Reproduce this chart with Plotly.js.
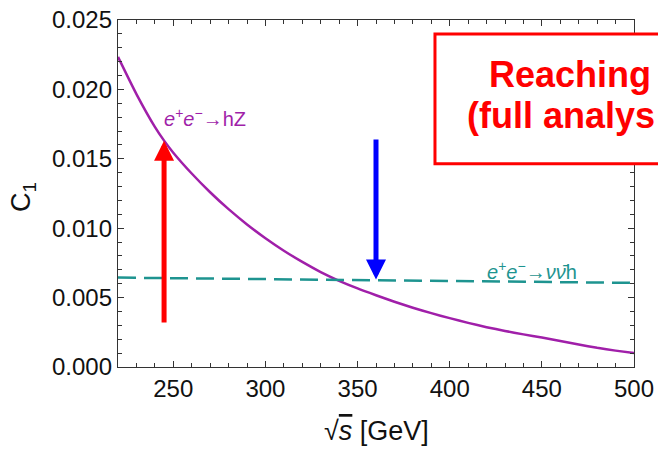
<!DOCTYPE html>
<html>
<head>
<meta charset="utf-8">
<script src="https://cdn.plot.ly/plotly-3.0.1.min.js"></script>
<style>html,body{margin:0;padding:0;background:#fff;}#chart{width:658px;height:449px;}</style>
</head>
<body>
<div id="chart"></div>
<script>
// sqrt(s) in GeV
const hzEnergy = [220,230,240,245,250,260,270,280,290,300,310,320,330,340,350,360,370,380,390,400,410,420,430,440,450,460,470,480,490,500];
// C1 for e+e- -> hZ
const hzC1 = [0.02234,0.01966,0.0173,0.01631,0.01544,0.01394,0.01259,0.01137,0.01027,0.00928,0.00838,0.00757,0.00684,0.00621,0.00566,0.00517,0.0047,0.00427,0.00388,0.00352,0.00318,0.00287,0.0026,0.00235,0.00212,0.00187,0.00162,0.00138,0.00118,0.00101];
// C1 for e+e- -> nu nubar h
const vvhEnergy = [220, 500];
const vvhC1 = [0.00644, 0.00606];
// arrows: [energy, from C1, to C1]
const redArrow = [245, 0.0031, 0.0163];
const blueArrow = [360, 0.0165, 0.0063];
const xTickVals = [250,300,350,400,450,500];
const yTickVals = [0.000,0.005,0.010,0.015,0.020,0.025];
const labels = {hz: "<i>e</i><sup>+</sup><i>e</i><sup>−</sup>→hZ", vvh: "<i>e</i><sup>+</sup><i>e</i><sup>−</sup>→<i>ν</i><i>ν̄</i>h"};
const boxLines = ["Reaching", "(full analys"];
const yTitle = "C<sub>1</sub>";
const xTitle = "√<span style='text-decoration:overline'><i>s</i></span> [GeV]";

const purple = "#a01fa9";
const teal = "#1e9490";
const FONT = "Arial, 'Liberation Sans', sans-serif";

const traces = [
  {x: hzEnergy, y: hzC1, mode: "lines", line: {color: purple, width: 2.5, shape: "spline", smoothing: 0.6}, hoverinfo: "skip"},
  {x: vvhEnergy, y: vvhC1, mode: "lines", line: {color: teal, width: 2.5, dash: "18px,8px"}, hoverinfo: "skip"}
];

const axisCommon = {
  showline: true, linecolor: "#333", linewidth: 1.2, mirror: "allticks",
  ticks: "inside", ticklen: 6, tickcolor: "#333", tickwidth: 1,
  showgrid: false, zeroline: false,
  tickfont: {family: FONT, size: 24, color: "#111"}
};

const layout = {
  width: 658, height: 449,
  margin: {l: 118, r: 24, t: 20, b: 82},
  paper_bgcolor: "#fff", plot_bgcolor: "#fff",
  showlegend: false,
  xaxis: Object.assign({}, axisCommon, {
    range: [220, 500], tickvals: xTickVals, ticktext: xTickVals.map(String),
    minor: {dtick: 10, tick0: 220, ticks: "inside", ticklen: 4, tickcolor: "#333"}
  }),
  yaxis: Object.assign({}, axisCommon, {
    range: [0, 0.025], tickvals: yTickVals, ticktext: yTickVals.map(v => v.toFixed(3)),
    minor: {dtick: 0.001, tick0: 0, ticks: "inside", ticklen: 4, tickcolor: "#333"}
  }),
  shapes: [
    {type: "rect", xref: "paper", yref: "paper", x0: 0.6143, x1: 1.2, y0: 0.586, y1: 0.96,
     line: {color: "#ff0000", width: 3}, fillcolor: "#ffffff", layer: "above"}
  ],
  annotations: [
    {x: redArrow[0], y: redArrow[2], ax: redArrow[0], ay: redArrow[1], xref: "x", yref: "y", axref: "x", ayref: "y",
     showarrow: true, arrowhead: 2, arrowsize: 0.8, arrowwidth: 5, arrowcolor: "#ff0000", text: ""},
    {x: blueArrow[0], y: blueArrow[2], ax: blueArrow[0], ay: blueArrow[1], xref: "x", yref: "y", axref: "x", ayref: "y",
     showarrow: true, arrowhead: 2, arrowsize: 0.8, arrowwidth: 5, arrowcolor: "#0000ff", text: ""},
    {x: 243.9, y: 0.01796, xref: "x", yref: "y", xanchor: "left", yanchor: "middle", showarrow: false,
     text: labels.hz, font: {family: FONT, size: 20, color: purple}},
    {x: 419.1, y: 0.00697, xref: "x", yref: "y", xanchor: "left", yanchor: "middle", showarrow: false,
     text: labels.vvh, font: {family: FONT, size: 20, color: teal}},
    {x: 0.715, y: 0.843, xref: "paper", yref: "paper", xanchor: "left", yanchor: "middle", showarrow: false,
     text: "<b>" + boxLines[0] + "</b>", font: {family: FONT, size: 36, color: "#ff0000"}},
    {x: 0.672, y: 0.724, xref: "paper", yref: "paper", xanchor: "left", yanchor: "middle", showarrow: false,
     text: "<b>" + boxLines[1] + "</b>", font: {family: FONT, size: 36, color: "#ff0000"}},
    {x: -0.184, y: 0.49, xref: "paper", yref: "paper", xanchor: "center", yanchor: "middle", showarrow: false,
     textangle: -90, text: yTitle, font: {family: FONT, size: 27, color: "#111"}},
    {x: 0.5, y: -0.185, xref: "paper", yref: "paper", xanchor: "center", yanchor: "middle", showarrow: false,
     text: xTitle, font: {family: FONT, size: 27, color: "#111"}}
  ]
};

Plotly.newPlot("chart", traces, layout, {staticPlot: true, displayModeBar: false});
</script>
</body>
</html>
